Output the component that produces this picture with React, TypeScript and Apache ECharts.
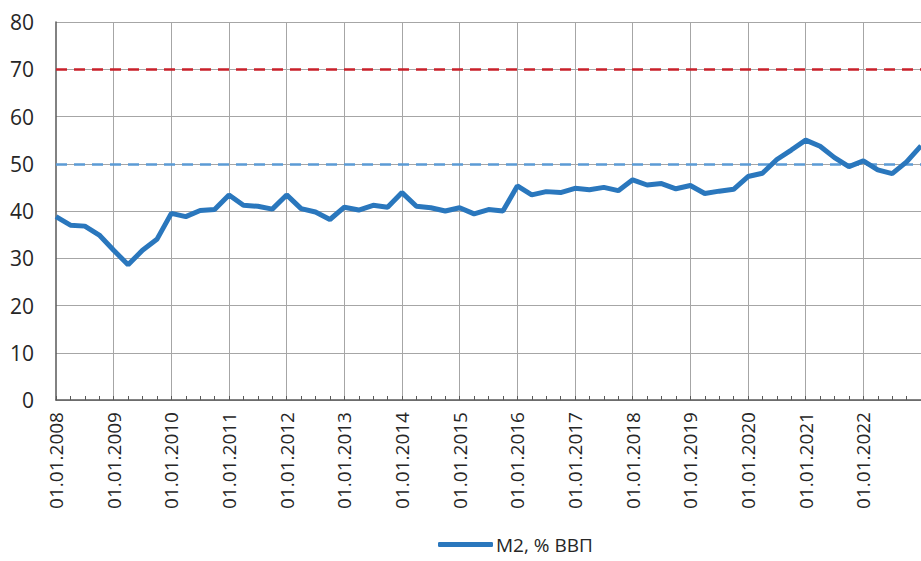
import React, { useEffect, useRef } from "react";
import * as echarts from "echarts";

const years = [2008, 2009, 2010, 2011, 2012, 2013, 2014, 2015, 2016, 2017, 2018, 2019, 2020, 2021, 2022, 2023];
const quarterStarts = ["01.01", "01.04", "01.07", "01.10"];
const categories: string[] = [];
years.forEach((y) => quarterStarts.forEach((q) => categories.push(`${q}.${y}`)));
const dates = categories.slice(0, 61);

const m2Values = [
  38.8, 37.0, 36.8, 34.9, 31.7, 28.6, 31.7, 34.0,
  39.5, 38.8, 40.1, 40.3, 43.4, 41.2, 41.0, 40.4,
  43.4, 40.5, 39.8, 38.2, 40.8, 40.2, 41.2, 40.8,
  43.9, 41.0, 40.7, 40.0, 40.7, 39.4, 40.3, 40.0,
  45.3, 43.4, 44.1, 43.9, 44.8, 44.5, 45.0, 44.3,
  46.6, 45.5, 45.8, 44.7, 45.4, 43.7, 44.2, 44.6,
  47.3, 48.0, 50.9, 52.9, 55.0, 53.7, 51.3, 49.4,
  50.6, 48.7, 47.9, 50.4, 53.8,
];

const upperThreshold = 70;
const lowerThreshold = 50;
const yTicks = { min: 0, max: 80, interval: 10 };
const seriesName = "M2, % ВВП";

export default function App() {
  const ref = useRef<HTMLDivElement>(null);
  useEffect(() => {
    if (!ref.current) return;
    const chart = echarts.init(ref.current, undefined, { renderer: "svg" });
    const font = "'Open Sans', 'Noto Sans', sans-serif";
    chart.setOption({
      animation: false,
      backgroundColor: "#ffffff",
      grid: { left: 56, top: 22, width: 869, height: 378 },
      legend: {
        data: [{ name: seriesName, icon: "roundRect" }],
        bottom: 2,
        left: 433,
        itemWidth: 55,
        itemHeight: 5,
        itemGap: 4,
        textStyle: { fontFamily: font, fontSize: 19, color: "#262626", padding: [0, 0, 0, -2] },
      },
      xAxis: {
        type: "category",
        data: dates,
        boundaryGap: false,
        axisLine: { lineStyle: { color: "#595959", width: 1.5 } },
        axisTick: {
          inside: true,
          length: 4,
          interval: 0,
          lineStyle: { color: "#595959", width: 1 },
        },
        axisLabel: {
          rotate: 90,
          margin: 12,
          interval: (i: number) => i % 4 === 0 && i < 60,
          fontFamily: font,
          fontSize: 19,
          color: "#262626",
        },
        splitLine: {
          show: true,
          interval: (i: number) => i % 4 === 0 && i > 0,
          lineStyle: { color: "#a6a6a6", width: 1 },
        },
      },
      yAxis: {
        type: "value",
        min: yTicks.min,
        max: yTicks.max,
        interval: yTicks.interval,
        axisLine: { show: true, lineStyle: { color: "#595959", width: 1.5 } },
        axisTick: { show: false },
        axisLabel: {
          margin: 22,
          fontFamily: font,
          fontSize: 21,
          color: "#262626",
        },
        splitLine: { show: true, lineStyle: { color: "#a6a6a6", width: 1 } },
      },
      series: [
        {
          name: seriesName,
          type: "line",
          data: m2Values,
          symbol: "none",
          lineStyle: { color: "#2a77bd", width: 5 },
          itemStyle: { color: "#2a77bd" },
          z: 3,
          markLine: {
            silent: true,
            symbol: "none",
            label: { show: false },
            z: 2,
            data: [
              {
                yAxis: upperThreshold,
                lineStyle: { color: "#c9202a", type: [11, 7], width: 2.5 },
              },
              {
                yAxis: lowerThreshold,
                lineStyle: { color: "#5b9bd5", type: [11, 7], width: 2.5 },
              },
            ],
          },
        },
      ],
    });
    return () => chart.dispose();
  }, []);
  return (
    <div
      ref={ref}
      style={{ position: "fixed", left: 0, top: 0, width: 921, height: 561 }}
    />
  );
}
